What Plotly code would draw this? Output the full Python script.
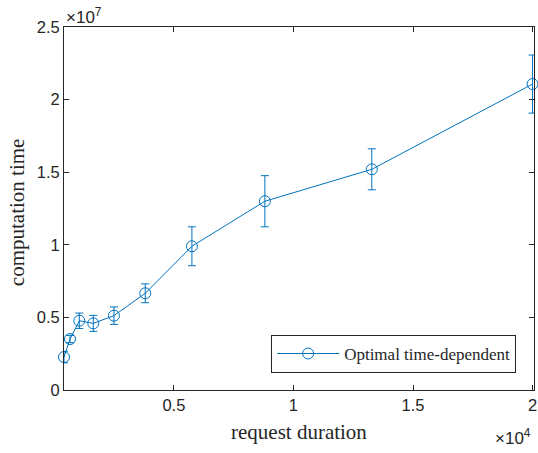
import plotly.graph_objects as go

duration = [405, 656, 1045, 1630, 2495, 3803, 5754, 8805, 13277, 20000]
comp_time = [2.27e6, 3.51e6, 4.77e6, 4.59e6, 5.12e6, 6.66e6, 9.90e6, 1.300e7, 1.520e7, 2.107e7]
comp_err = [0.4e6, 0.25e6, 0.53e6, 0.55e6, 0.60e6, 0.65e6, 1.34e6, 1.76e6, 1.41e6, 2.0e6]

x_ticks = [5000, 10000, 15000, 20000]
x_tick_text = ["0.5", "1", "1.5", "2"]
y_ticks = [0, 5e6, 1e7, 1.5e7, 2e7, 2.5e7]
y_tick_text = ["0", "0.5", "1", "1.5", "2", "2.5"]

blue = "#0072BD"
axc = "#262626"
sans = "Liberation Sans, Arial, sans-serif"
serif = "Liberation Serif, DejaVu Serif, serif"

fig = go.Figure()
fig.add_trace(go.Scatter(
    x=duration, y=comp_time, mode="lines+markers",
    name="Optimal time-dependent",
    line=dict(color=blue, width=1),
    marker=dict(symbol="circle-open", size=11, color=blue, line=dict(width=1, color=blue)),
    error_y=dict(type="data", array=comp_err, visible=True, color=blue, thickness=1, width=4),
    cliponaxis=False,
))

axis_common = dict(
    showline=True, linecolor=axc, linewidth=1, mirror="allticks",
    ticks="inside", ticklen=5, tickcolor=axc, tickwidth=1,
    showgrid=False, zeroline=False, ticklabeloverflow="allow",
    tickfont=dict(family=sans, size=16.5, color=axc),
)

fig.update_layout(
    width=538, height=453,
    margin=dict(l=64, r=1, t=27, b=63),
    paper_bgcolor="white", plot_bgcolor="white",
    xaxis=dict(range=[405, 20060], tickvals=x_ticks, ticktext=x_tick_text, **axis_common),
    yaxis=dict(range=[0, 2.5e7], tickvals=y_ticks, ticktext=y_tick_text, **axis_common),
    showlegend=True,
    legend=dict(x=0.962, y=0.047, xanchor="right", yanchor="bottom",
                bordercolor=axc, borderwidth=1, bgcolor="white", itemwidth=62,
                font=dict(family=serif, size=17, color=axc)),
    annotations=[
        dict(text="request duration", x=0.5, y=-0.1157, xref="paper", yref="paper",
             xanchor="center", yanchor="middle", showarrow=False,
             font=dict(family=serif, size=21, color=axc)),
        dict(text="computation time", x=-0.1, y=0.49, xref="paper", yref="paper",
             xanchor="center", yanchor="middle", showarrow=False, textangle=-90,
             font=dict(family=serif, size=21, color=axc)),
        dict(text="×10<sup>7</sup>", x=0.0, y=1, xref="paper", yref="paper",
             xanchor="left", yanchor="bottom", showarrow=False, yshift=-2,
             font=dict(family=sans, size=17, color=axc)),
        dict(text="×10<sup>4</sup>", x=0.998, y=-0.129, xref="paper", yref="paper",
             xanchor="right", yanchor="middle", showarrow=False,
             font=dict(family=sans, size=17, color=axc)),
    ],
)

fig.write_html("out.html")
